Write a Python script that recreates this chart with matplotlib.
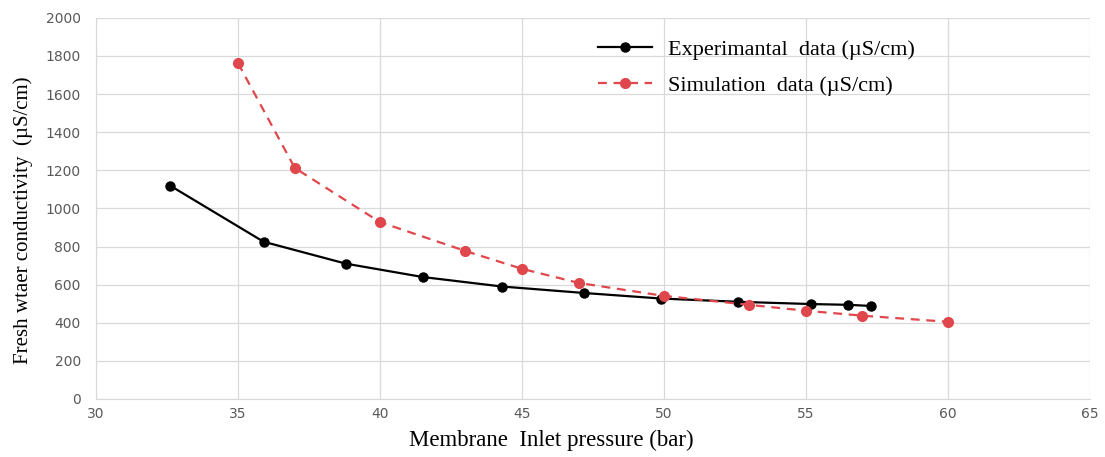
import matplotlib
matplotlib.use('Agg')
import matplotlib.pyplot as plt

# experimental data
exp_p = [32.6, 35.9, 38.8, 41.5, 44.3, 47.2, 49.9, 52.6, 55.2, 56.5, 57.3]
exp_c = [1120, 825, 710, 640, 590, 556, 527, 510, 498, 494, 488]

# simulation data
sim_p = [35, 37, 40, 43, 45, 47, 50, 53, 55, 57, 60]
sim_c = [1762, 1212, 928, 777, 683, 609, 541, 494, 463, 437, 405]

fig = plt.figure(figsize=(11.05, 4.57), dpi=100)
ax = fig.add_axes([0.087, 0.127, 0.899, 0.834])

ax.plot(exp_p, exp_c, color='black', lw=1.6, marker='o', ms=6.5,
        label='Experimantal  data (\u00b5S/cm)', zorder=3)
ax.plot(sim_p, sim_c, color='#e0474c', lw=1.6, ls=(0, (4, 3)), marker='o', ms=7,
        label='Simulation  data (\u00b5S/cm)', zorder=3)

ax.set_xlim(30, 65)
ax.set_ylim(0, 2000)
ax.set_xticks(range(30, 66, 5))
ax.set_yticks(range(0, 2001, 200))
ax.grid(True, color='#d9d9d9', lw=0.9)
ax.set_axisbelow(True)
for s in ['top', 'right']:
    ax.spines[s].set_visible(False)
for s in ['left', 'bottom']:
    ax.spines[s].set_color('#d9d9d9')
ax.tick_params(length=0, labelsize=10, colors='#595959')
ax.tick_params(axis='y', pad=11)
ax.tick_params(axis='x', pad=6)

ax.set_xlabel('Membrane  Inlet pressure (bar)', family='Liberation Serif', size=16.5)
ax.set_ylabel('Fresh wtaer conductivity  (\u00b5S/cm)', family='Liberation Serif', size=15)
ax.xaxis.set_label_coords(0.458, -0.082)
ax.yaxis.set_label_coords(-0.064, 0.47)

leg = ax.legend(loc='upper left', bbox_to_anchor=(0.485, 0.997), frameon=False,
                prop={'family': 'Liberation Serif', 'size': 16}, handlelength=2.45,
                handletextpad=0.7, labelspacing=0.7)

plt.savefig('out.png', dpi=100)
